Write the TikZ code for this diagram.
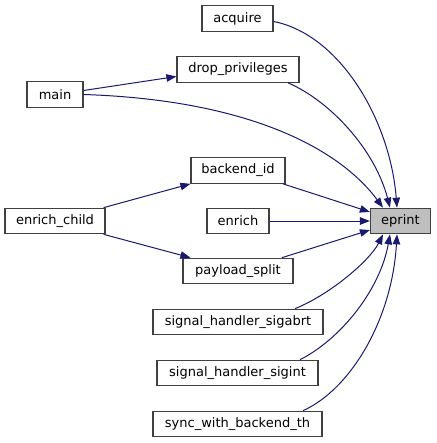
\documentclass[tikz,border=0pt]{standalone}
\usepackage{fontspec}
\setmainfont{DejaVu Sans}
\usetikzlibrary{arrows.meta}
\definecolor{edgeblue}{HTML}{191970}
\definecolor{boxgray}{HTML}{BFBFBF}
\definecolor{boxline}{HTML}{404040}

\begin{document}
\begin{tikzpicture}[x=1pt,y=-1pt,
  fn/.style={draw=boxline,line width=1.2pt,fill=white,minimum height=25.5pt,
    inner sep=0pt,font=\fontsize{13}{15}\selectfont},
  call/.style={draw=edgeblue,line width=1pt,-{Triangle[length=10pt,width=7.5pt]}}]
\useasboundingbox (0,0) rectangle (436,443);

\node[fn,fill=boxgray,minimum width=60pt] (eprint) at (400.5,221) {eprint};

\node[fn,minimum width=71pt] (acquire) at (237.5,18.5) {acquire};
\node[fn,minimum width=122pt] (drop) at (238,69.5) {drop\_privileges};
\node[fn,minimum width=56pt] (main) at (55,94.5) {main};
\node[fn,minimum width=94pt] (backend) at (238,170.5) {backend\_id};
\node[fn,minimum width=62pt] (enrich) at (238,221) {enrich};
\node[fn,minimum width=100pt] (child) at (55,221) {enrich\_child};
\node[fn,minimum width=110pt] (split) at (238,271) {payload\_split};
\node[fn,minimum width=170pt] (sigabrt) at (238,322) {signal\_handler\_sigabrt};
\node[fn,minimum width=161pt] (sigint) at (237.5,373) {signal\_handler\_sigint};
\node[fn,minimum width=169pt] (sync) at (237.5,424) {sync\_with\_backend\_th};

% callers of eprint, top
\draw[call] ([yshift=-3pt]acquire.east) .. controls +(66,13) and +(-7,-88) .. ([xshift=-3.5pt]eprint.north);
\draw[call] ([xshift=50pt]drop.south) .. controls +(42,18) and +(-15,-58) .. ([xshift=-10.5pt]eprint.north);
\draw[call] (main.east) .. controls +(167,5.5) and +(-43,-58) .. ([xshift=-17.5pt]eprint.north);
\draw[call] ([yshift=4pt]main.east) -- ([yshift=-7pt]drop.west);

% middle
\draw[call] ([xshift=45pt]backend.south) -- ([yshift=9pt]eprint.west);
\draw[call] (enrich.east) -- (eprint.west);
\draw[call] ([xshift=44pt]split.north) -- ([yshift=-9pt]eprint.west);
\draw[call] ([xshift=-2pt]child.north east) -- (backend.south west);
\draw[call] ([xshift=-2pt]child.south east) -- ([xshift=8pt]split.north west);

% callers of eprint, bottom
\draw[call] ([xshift=57pt]sigabrt.north) .. controls +(35,-14) and +(-13,26) .. ([xshift=-17.5pt]eprint.south);
\draw[call] ([xshift=62.5pt]sigint.north) .. controls +(40,-20) and +(-10,56) .. ([xshift=-10.5pt]eprint.south);
\draw[call] ([xshift=65.5pt]sync.north) .. controls +(47,-21) and +(-5,86) .. ([xshift=-3.5pt]eprint.south);
\end{tikzpicture}
\end{document}
